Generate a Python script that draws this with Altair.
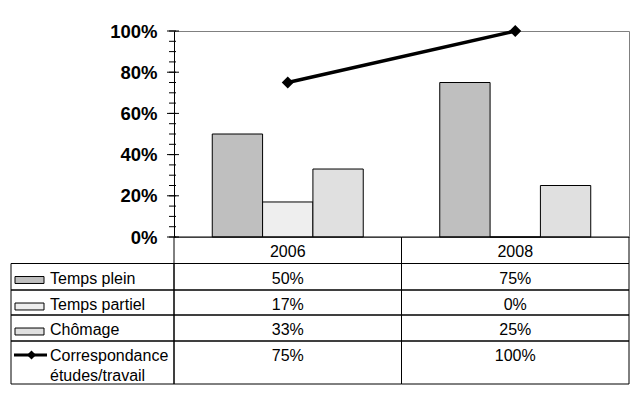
import altair as alt
import pandas as pd

# ---------------- data ----------------
years = ["2006", "2008"]
series = ["Temps plein", "Temps partiel", "Chômage"]
temps_plein = [0.50, 0.75]
temps_partiel = [0.17, 0.00]
chomage = [0.33, 0.25]
correspondance = [0.75, 1.00]
line_label = "Correspondance\nétudes/travail"
y_labels = [0.0, 0.2, 0.4, 0.6, 0.8, 1.0]
minor_ticks = [0.00, 0.05, 0.10, 0.15, 0.20, 0.25, 0.30, 0.35, 0.40, 0.45, 0.50,
               0.55, 0.60, 0.65, 0.70, 0.75, 0.80, 0.85, 0.90, 0.95, 1.00]

# ---------------- layout / style ----------------
W, H = 455, 206
ROW_HEIGHTS = [26.5, 26.5, 25, 26, 43]  # header + 4 table rows (px)
FONT = "Liberation Sans"
GRAYS = ["#bfbfbf", "#eeeeee", "#e0e0e0"]
TXT = 16

tops = [0.0]
for h in ROW_HEIGHTS:
    tops.append(tops[-1] + h)
TOTAL = tops[-1]

bars_df = pd.DataFrame(
    [{"year": y, "series": s, "value": v}
     for s, vals in zip(series, [temps_plein, temps_partiel, chomage])
     for y, v in zip(years, vals)]
)
line_df = pd.DataFrame({"year": years, "value": correspondance})
minor_df = pd.DataFrame({"value": minor_ticks})
major_df = pd.DataFrame({"value": y_labels})

row_names = series + [line_label]
row_series = series + ["line"]
row_values = [temps_plein, temps_partiel, chomage, correspondance]

cells_df = pd.DataFrame(
    [{"row": n, "year": y, "value": v, "top": tops[i + 1], "bottom": tops[i + 2]}
     for i, (n, vals) in enumerate(zip(row_names, row_values))
     for y, v in zip(years, vals)]
)
header_df = pd.DataFrame([{"year": y, "top": tops[0], "bottom": tops[1]} for y in years])
labels_df = pd.DataFrame(
    [{"row": n, "series": s, "top": tops[i + 1], "bottom": tops[i + 2]}
     for i, (n, s) in enumerate(zip(row_names, row_series))]
)
swatch_df = labels_df[labels_df["series"] != "line"]
lineleg_df = labels_df[labels_df["series"] == "line"]

# ---------------- encodings ----------------
xenc = alt.X("year:N", scale=alt.Scale(domain=years, paddingInner=0, paddingOuter=0), axis=None)
yscale = alt.Scale(domain=[0, 1], nice=False, zero=True)
yaxis = alt.Axis(values=y_labels, format=".0%", title="", grid=False,
                 ticks=False, tickSize=0, labelPadding=17,
                 labelFont=FONT, labelFontSize=18.5, labelFontWeight="bold",
                 labelColor="black", domainColor="black", domainWidth=1)
yenc = alt.Y("value:Q", scale=yscale, axis=yaxis)
tscale = alt.Scale(domain=[0, TOTAL], range=[H, H + TOTAL], nice=False, zero=False)
ty = alt.Y("top:Q", scale=tscale, axis=None)
color_enc = alt.Color("series:N", scale=alt.Scale(domain=series, range=GRAYS), legend=None)

bars = alt.Chart(bars_df).mark_bar(stroke="black", strokeWidth=1).encode(
    x=xenc,
    xOffset=alt.XOffset("series:N", scale=alt.Scale(domain=series, paddingInner=0, paddingOuter=0.76)),
    y=yenc,
    color=color_enc,
)

line = alt.Chart(line_df).mark_line(color="black", strokeWidth=3.5).encode(x=xenc, y=yenc)
points = alt.Chart(line_df).mark_point(shape="diamond", filled=True, size=144,
                                       color="black", opacity=1).encode(x=xenc, y=yenc)
minor = alt.Chart(minor_df).mark_tick(orient="horizontal", color="black", thickness=1,
                                      size=7, opacity=1).encode(y=yenc, x=alt.value(-1.5))
major = alt.Chart(major_df).mark_tick(orient="horizontal", color="black", thickness=1,
                                      size=12, opacity=1).encode(y=yenc, x=alt.value(-1))

plot = alt.layer(bars, line, points, minor, major)

# ---------------- data table ----------------
cell_rects = alt.Chart(pd.concat([header_df, cells_df[["year", "top", "bottom"]]])).mark_rect(
    fillOpacity=0, stroke="black", strokeWidth=1
).encode(x=xenc, y=ty, y2="bottom:Q")

label_rects = alt.Chart(labels_df).mark_rect(
    fillOpacity=0, stroke="black", strokeWidth=1
).encode(x=alt.value(-163), x2=alt.value(0), y=ty, y2="bottom:Q")

header_text = alt.Chart(header_df).mark_text(
    font=FONT, fontSize=TXT, color="black", align="center", baseline="alphabetic", dy=20
).encode(x=xenc, y=ty, text="year:N")

value_text = alt.Chart(cells_df).mark_text(
    font=FONT, fontSize=TXT, color="black", align="center", baseline="alphabetic", dy=20
).encode(x=xenc, y=ty, text=alt.Text("value:Q", format=".0%"))

label_text = alt.Chart(labels_df).mark_text(
    font=FONT, fontSize=TXT, color="black", align="left", baseline="alphabetic",
    dy=20, lineBreak="\n", lineHeight=20
).encode(x=alt.value(-124), y=ty, text="row:N")

swatches = alt.Chart(swatch_df).mark_point(
    shape="M-1,-0.24H1V0.24H-1Z", size=841, filled=True, stroke="black",
    strokeWidth=1, opacity=1, yOffset=16.5
).encode(x=alt.value(-144.5), y=ty, color=color_enc)

leg_line = alt.Chart(lineleg_df).mark_rule(color="black", strokeWidth=3, yOffset=14).encode(
    x=alt.value(-160), x2=alt.value(-127), y=ty
)
leg_diamond = alt.Chart(lineleg_df).mark_point(
    shape="diamond", filled=True, size=81, color="black", opacity=1, yOffset=14
).encode(x=alt.value(-142.5), y=ty)

table = alt.layer(cell_rects, label_rects, header_text, value_text, label_text,
                  swatches, leg_line, leg_diamond)

chart = alt.layer(plot, table).resolve_scale(y="independent").properties(
    width=W, height=H,
    autosize=alt.AutoSizeParams(type="none"),
    padding={"left": 166, "top": 23, "right": 1, "bottom": 150},
    background="white",
).configure_view(stroke="#808080", strokeWidth=1)

chart.save("out.html", embed_options={"renderer": "svg", "actions": False})
